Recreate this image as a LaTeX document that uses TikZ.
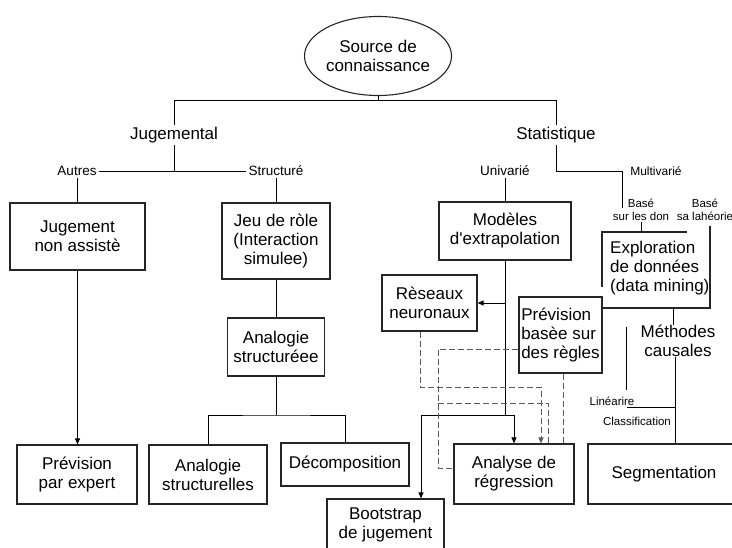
\documentclass[tikz,border=0pt]{standalone}
\usepackage{fontspec}
\setmainfont{Liberation Sans}
\usetikzlibrary{shapes.geometric,arrows.meta}
\begin{document}
\begin{tikzpicture}[x=1pt,y=-1pt,
  every node/.style={inner sep=0pt},
  bigfont/.style={font=\fontsize{17}{19}\selectfont},
  boxnode/.style={draw=black!85, line width=1.2pt, align=center, bigfont},
  boxline/.style={draw=black!85, line width=1.2pt},
  lbl/.style={bigfont, inner sep=2pt},
  sublbl/.style={font=\fontsize{13.5}{15}\selectfont, inner sep=2pt},
  tinylbl/.style={font=\fontsize{11.5}{13}\selectfont, align=center, inner sep=1pt},
  link/.style={line width=0.9pt, draw=black},
  dsh/.style={line width=0.9pt, draw=black!65, dash pattern=on 6pt off 3pt},
  arrowed/.style={-{Triangle[length=6pt,width=5pt]}},
]
\useasboundingbox (0,0) rectangle (732,548);
\fill[white] (0,0) rectangle (732,548);
\clip (0,0) rectangle (732,548);

% ---- root and the two main branches
\node[ellipse, draw=black!85, line width=1.1pt, minimum width=133pt, minimum height=79pt,
      align=center, bigfont] (src) at (378,56) {Source de\\connaissance};
\node[lbl] (jug) at (174,135) {Jugemental};
\node[lbl] (stat) at (556,135) {Statistique};
\coordinate (tj) at (174,100);
\coordinate (ts) at (556,100);
\draw[link] (jug.north) -- (tj) -- (ts) -- (stat.north);
\draw[link] (src.south) -- (src.south |- tj);

% ---- judgemental side
\node[sublbl] (autres) at (77,171) {Autres};
\node[sublbl] (struct) at (276,171) {Structuré};
\draw[link] (autres.east) -- (struct.west);
\draw[link] (jug.south) -- (jug.south |- autres.east);

\node[boxnode, minimum width=135pt, minimum height=67pt] (jna) at (77.5,236.5) {Jugement\\non assistè};
\node[boxnode, minimum width=108pt, minimum height=76pt] (jeu) at (276,241) {Jeu de ròle\\(Interaction\\simulee)};
\node[boxnode, minimum width=97pt, minimum height=58pt] (ana) at (276,347) {Analogie\\structuréee};
\node[boxnode, minimum width=120pt, minimum height=59pt] (pexp) at (77,474.5) {Prévision\\par expert};
\node[boxnode, minimum width=118pt, minimum height=59pt] (astr) at (208,474.5) {Analogie\\structurelles};
\node[boxnode, minimum width=128pt, minimum height=43pt] (deco) at (345,464.5) {Décomposition};
\node[boxnode, minimum width=117pt, minimum height=51pt] (boot) at (385.5,524.5) {Bootstrap\\de jugement};

\draw[link] (autres.south) -- (autres.south |- jna.north);
\draw[link] (struct.south) -- (jeu.north);
\draw[link] (jeu.south) -- (ana.north);
\coordinate (asp) at (276,415);
\draw[link] (ana.south) -- (asp);
\draw[link] (astr.north) |- (asp) -| (deco.north);
\draw[link, arrowed] (jna.south) -- (jna.south |- pexp.north);

% ---- statistical side
\node[sublbl] (univ) at (505,171) {Univarié};
\node[font=\fontsize{12}{14}\selectfont, inner sep=2pt] (multi) at (656,171) {Multivarié};
\coordinate (mvc) at (622,171);
\coordinate (mvd) at (622,208);
\draw[link] (stat.south) |- (mvc) -- (mvd);

\node[boxnode, minimum width=132pt, minimum height=58pt] (mod) at (505,231) {Modèles\\d\textquotesingle extrapolation};
\draw[link] (univ.south) -- (univ.south |- mod.north);

\node[tinylbl] (bsd) at (641,210) {Basé\\sur les don};
\node[tinylbl] (bst) at (705,210) {Basé\\sa lahéorie};

\node[boxnode, minimum width=83pt, minimum height=76pt, align=left] (prev) at (560.5,335) {Prévision\\basèe sur\\des règles};

% open frame around the data-mining block
\coordinate (eTL) at (602,232);
\coordinate (eTR) at (687,232);
\coordinate (eBL) at (602,287);
\coordinate (eRT) at (710,226);
\coordinate (eBR) at (710,308);
\draw[boxline] (eBL) -- (eTL) -- (eTR);
\draw[boxline] (eRT) -- (eBR) -- (prev.east |- eBR);
\draw[link] (bsd.south) -- (bsd.south |- eTL);
\node[bigfont, align=left, anchor=west] (expl) at (610,268.5) {Exploration\\de données\\(data mining)};

\node[bigfont, align=center] (meth) at (678,341) {Méthodes\\causales};
\coordinate (mtop) at (673,308);
\draw[link] (mtop) -- (mtop |- meth.north);

\node[boxnode, minimum width=152pt, minimum height=60pt] (seg) at (664,474) {Segmentation};
\draw[link] ([xshift=-3pt]meth.south) -- ([xshift=-3pt]meth.south |- seg.north);

\node[tinylbl] (lin) at (612,401) {Linéarire};
\node[tinylbl] (cls) at (637,421) {Classification};
\coordinate (lv1) at (626,327);
\coordinate (lv2) at (626,390);
\draw[link] (lv1) -- (lv2);
\coordinate (lh) at (627,407);
\draw[link] (lh) -- ([xshift=-3pt]meth.south |- lh);

\node[boxnode, minimum width=95pt, minimum height=56pt] (res) at (429.5,303) {Rèseaux\\neuronaux};
\node[boxnode, minimum width=120pt, minimum height=60pt] (anareg) at (514,474) {Analyse de\\régression};

\draw[link, arrowed] (mod.south |- res.east) -- (res.east);
\coordinate (mj) at (505,415);
\draw[link] (mod.south) -- (mj);
\draw[link, arrowed] (mj) -| (anareg.north);
\draw[link, arrowed] (mj) -| ([xshift=35.5pt]boot.north);

% dashed links into the regression box
\coordinate (rd) at (420,387);
\draw[dsh, arrowed] ([xshift=-9.5pt]res.south) -- (rd) -| ([xshift=27pt]anareg.north);
\coordinate (pd) at (438,349);
\draw[dsh] ([yshift=-14pt]prev.west) -- (pd) |- ([yshift=6pt]anareg.west);
\coordinate (dj) at (438,403);
\draw[dsh] (dj) -| ([xshift=34pt]anareg.north);
\draw[dsh] ([xshift=2.5pt]prev.south) -- ([xshift=2.5pt]prev.south |- anareg.north);
\end{tikzpicture}
\end{document}
